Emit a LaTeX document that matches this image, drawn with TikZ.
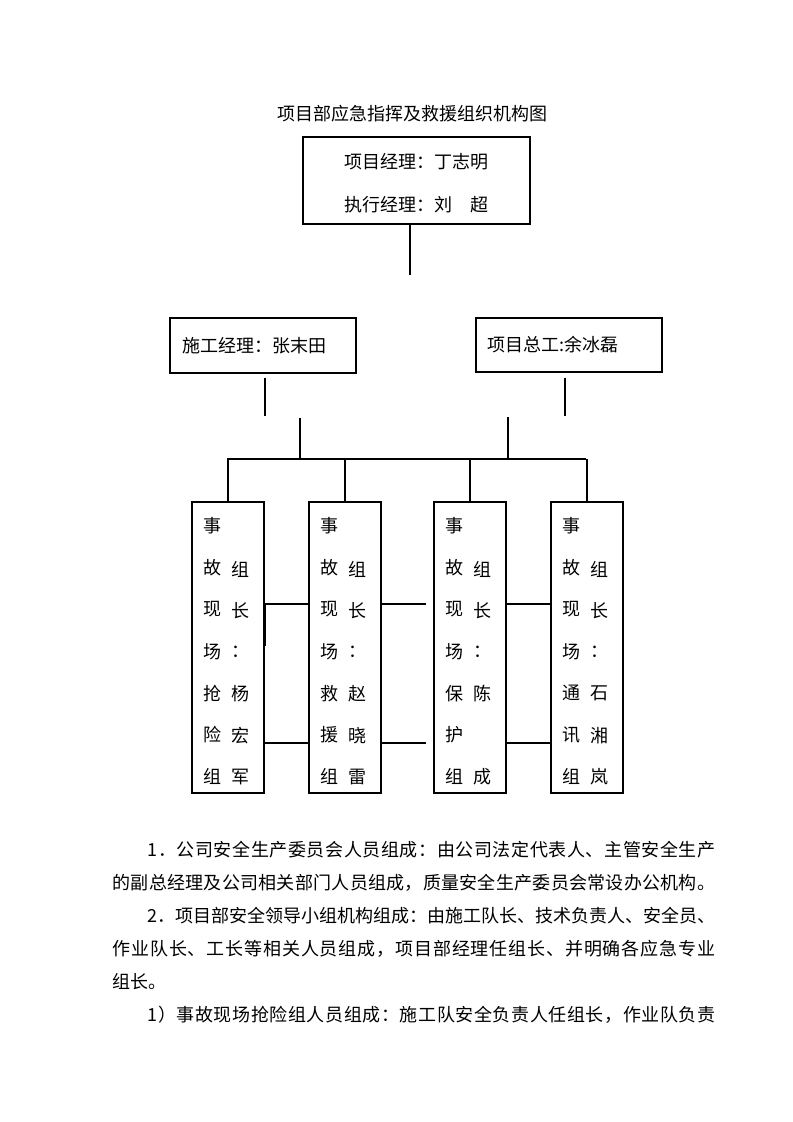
\documentclass[tikz,border=0pt]{standalone}
\usepackage{fontspec}
\setmainfont{Noto Sans CJK SC}
\def\spreadaux#1{\ifx#1\relax\else#1\hfil\expandafter\spreadaux\fi}
\newcommand{\spreadline}[2]{\hbox to #1{\spreadaux#2\relax\unskip}}
\tikzstyle{boxchar} = [inner sep=0pt, font=\fontsize{13.5}{13.5}\selectfont]
\tikzstyle{bodyline} = [anchor=west, inner sep=0pt, font=\fontsize{13.5}{13.5}\selectfont]
\begin{document}
\begin{tikzpicture}[x=0.75pt, y=-0.75pt, thick]
  \useasboundingbox (0, 0) rectangle (793, 1122);
  \node[boxchar] (title) at (412, 114) {项目部应急指挥及救援组织机构图};
  % top box
  \draw (303, 137) rectangle (530, 224);
  \node[boxchar] (pm) at (416, 162) {项目经理：丁志明};
  \node[boxchar] (em) at (416, 205) {执行经理：刘\quad 超};
  \coordinate (t1) at (410, 224);
  \coordinate (t2) at (410, 275);
  \draw (t1) -- (t2);
  % middle boxes
  \draw (170, 318) rectangle (356, 373);
  \node[boxchar, anchor=west] (sg) at (182, 346) {施工经理：张末田};
  \draw (476, 318) rectangle (662, 372);
  \node[boxchar, anchor=west] (zg) at (487, 345) {项目总工:余冰磊};
  \draw (265, 378) -- (265, 416);
  \draw (565, 378) -- (565, 416);
  \draw (300, 418) -- (300, 459);
  \draw (508, 417) -- (508, 459);
  \draw (227, 459) -- (586, 459);
  % group boxes
  \foreach \i/\x/\b/\c/\d/\e/\f/\g in {
      1/192/组/长/：/杨/宏/军,
      2/309/组/长/：/赵/晓/雷,
      3/434/组/长/：/陈/{}/成,
      4/551/组/长/：/石/湘/岚} {
    \draw (\x, 502) rectangle (\x + 72, 793);
    \draw (\x + 36, 459) -- (\x + 36, 502);
    \foreach \r/\t in {0/\b, 1/\c, 2/\d, 3/\e, 4/\f, 5/\g} {
      \node[boxchar] (g\i r\r) at (\x + 48, 569 + \r * 41.6) {\t};
    }
  }
  \foreach \i/\x/\p/\q/\s/\u/\v/\w/\z in {
      1/192/事/故/现/场/抢/险/组,
      2/309/事/故/现/场/救/援/组,
      3/434/事/故/现/场/保/护/组,
      4/551/事/故/现/场/通/讯/组} {
    \foreach \r/\t in {0/\p, 1/\q, 2/\s, 3/\u, 4/\v, 5/\w, 6/\z} {
      \node[boxchar] (h\i r\r) at (\x + 20, 526 + \r * 41.8) {\t};
    }
  }
  \foreach \x in {264, 381, 506} {
    \draw (\x, 604) -- (\x + 45, 604);
    \draw (\x, 743) -- (\x + 45, 743);
  }
  \draw[line width=1.5pt] (265, 604) -- (265, 646);
  % body text
  \node[bodyline] (l1) at (147, 850) {\spreadline{426pt}{1．公司安全生产委员会人员组成：由公司法定代表人、主管安全生产}};
  \node[bodyline] (l2) at (112, 883) {\spreadline{452pt}{的副总经理及公司相关部门人员组成，质量安全生产委员会常设办公机构。}};
  \node[bodyline] (l3) at (147, 916) {\spreadline{426pt}{2．项目部安全领导小组机构组成：由施工队长、技术负责人、安全员、}};
  \node[bodyline] (l4) at (112, 949) {\spreadline{452pt}{作业队长、工长等相关人员组成，项目部经理任组长、并明确各应急专业}};
  \node[bodyline] (l5) at (112, 982) {组长。};
  \node[bodyline] (l6) at (147, 1015) {\spreadline{426pt}{1）事故现场抢险组人员组成：施工队安全负责人任组长，作业队负责}};
\end{tikzpicture}
\end{document}
